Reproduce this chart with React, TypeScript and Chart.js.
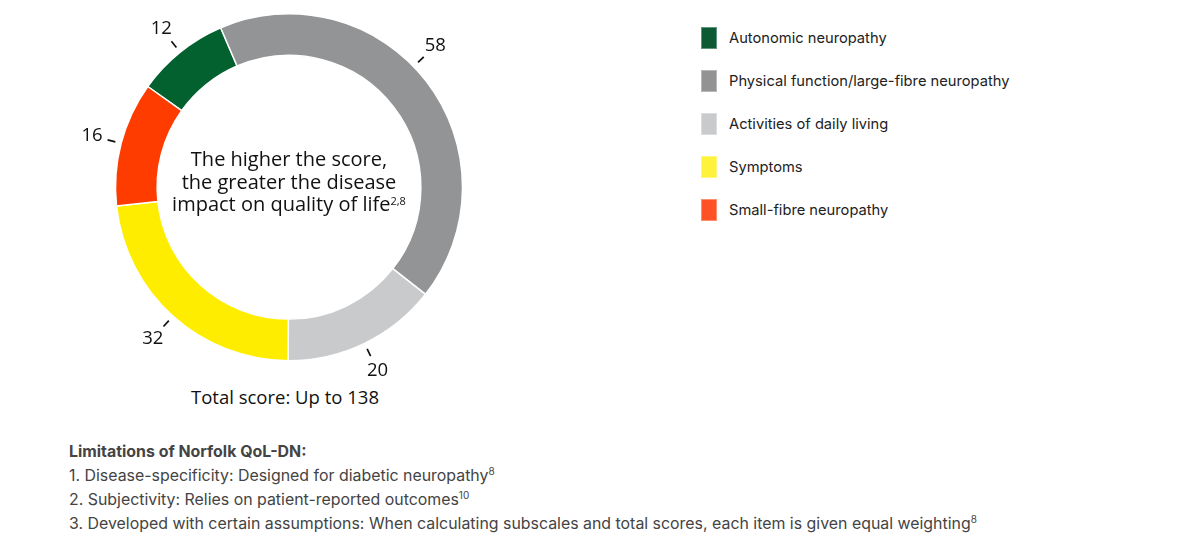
import React, { useEffect, useRef } from "react";
import { Chart, registerables } from "chart.js";

Chart.register(...registerables);

const categories = [
  "Autonomic neuropathy",
  "Physical function/large-fibre neuropathy",
  "Activities of daily living",
  "Symptoms",
  "Small-fibre neuropathy",
];
const scores = [12, 58, 20, 32, 16];
const sliceColors = ["#03602f", "#939495", "#c8cacc", "#ffed00", "#ff3c00"];
const legendColors = ["#0b5a34", "#939394", "#c8cacc", "#fff23a", "#ff5224"];
const centerLines = ["The higher the score,", "the greater the disease", "impact on quality of life"];
const centerSup = "2,8";
const totalLabel = "Total score: Up to 138";
const limitationsTitle = "Limitations of Norfolk QoL-DN:";
const limitations = [
  ["1. Disease-specificity: Designed for diabetic neuropathy", "8"],
  ["2. Subjectivity: Relies on patient-reported outcomes", "10"],
  ["3. Developed with certain assumptions: When calculating subscales and total scores, each item is given equal weighting", "8"],
];

const FONT_CHART = "'Open Sans', 'Noto Sans', sans-serif";
const FONT_BODY = "Inter, 'Noto Sans', sans-serif";
// small angular nudges (degrees) for label placement readability
const labelNudge = [0, -6.5, 0, 0, 0];

const labelPlugin = {
  id: "outerLabels",
  afterDatasetsDraw(chart: any) {
    const ctx = chart.ctx;
    const meta = chart.getDatasetMeta(0);
    const values = chart.data.datasets[0].data;
    ctx.save();
    meta.data.forEach((arc: any, i: number) => {
      const { x, y, startAngle, endAngle, outerRadius } = arc.getProps(
        ["x", "y", "startAngle", "endAngle", "outerRadius"],
        true
      );
      const mid = (startAngle + endAngle) / 2 + ((labelNudge[i] || 0) * Math.PI) / 180;
      const cos = Math.cos(mid);
      const sin = Math.sin(mid);
      const r1 = outerRadius + 6;
      const r2 = outerRadius + 14;
      const r3 = outerRadius + 30;
      ctx.strokeStyle = "#111";
      ctx.lineWidth = 1.7;
      ctx.beginPath();
      ctx.moveTo(x + cos * r1, y + sin * r1);
      ctx.lineTo(x + cos * r2, y + sin * r2);
      ctx.stroke();
      ctx.fillStyle = "#111";
      ctx.font = `18.5px ${FONT_CHART}`;
      ctx.textAlign = "center";
      ctx.textBaseline = "middle";
      ctx.fillText(String(values[i]), x + cos * r3, y + sin * r3);
    });
    ctx.restore();
  },
};

export default function App() {
  const canvasRef = useRef<HTMLCanvasElement | null>(null);

  useEffect(() => {
    if (!canvasRef.current) return;
    const chart = new Chart(canvasRef.current, {
      type: "doughnut",
      data: {
        labels: categories,
        datasets: [
          {
            data: scores,
            backgroundColor: sliceColors,
            borderColor: "#ffffff",
            borderWidth: 1.5,
          },
        ],
      },
      options: {
        animation: false,
        responsive: false,
        maintainAspectRatio: false,
        cutout: "76%",
        rotation: -54.5,
        layout: { padding: { top: 13, bottom: 14.5, left: 0, right: 0 } },
        plugins: {
          legend: { display: false },
          tooltip: { enabled: false },
        },
      },
      plugins: [labelPlugin],
    });
    return () => chart.destroy();
  }, []);

  return (
    <div style={{ position: "relative", width: 1162, height: 528 }}>
      <canvas
        ref={canvasRef}
        width={500}
        height={376}
        style={{ position: "absolute", left: 31, top: -8, width: 500, height: 376 }}
      />
      <div
        style={{
          position: "absolute",
          left: 131,
          top: 140,
          width: 300,
          textAlign: "center",
          fontFamily: FONT_CHART,
          fontSize: 20,
          lineHeight: "22.5px",
          color: "#111",
        }}
      >
        {centerLines.map((l, i) => (
          <div key={i}>
            {l}
            {i === centerLines.length - 1 ? (
              <sup style={{ fontSize: 11, lineHeight: 0, verticalAlign: "6px" }}>{centerSup}</sup>
            ) : null}
          </div>
        ))}
      </div>
      <div
        style={{
          position: "absolute",
          left: 127,
          top: 377,
          width: 300,
          textAlign: "center",
          fontFamily: FONT_CHART,
          fontSize: 18.5,
          lineHeight: "24px",
          color: "#111",
        }}
      >
        {totalLabel}
      </div>
      <div style={{ position: "absolute", left: 693, top: 19 }}>
        {categories.map((c, i) => (
          <div
            key={i}
            style={{ display: "flex", alignItems: "center", height: 22, marginBottom: 21 }}
          >
            <div
              style={{
                width: 16,
                height: 22,
                background: legendColors[i],
                boxSizing: "border-box",
                border: "1px solid rgba(255,255,255,0.35)",
                marginRight: 12,
              }}
            />
            <span style={{ fontFamily: FONT_BODY, fontSize: 14.7, color: "#222" }}>{c}</span>
          </div>
        ))}
      </div>
      <div
        style={{
          position: "absolute",
          left: 61,
          top: 432,
          fontFamily: FONT_BODY,
          fontSize: 15.9,
          lineHeight: "24px",
          color: "#444",
        }}
      >
        <div style={{ fontWeight: 700, height: 24 }}>{limitationsTitle}</div>
        {limitations.map(([t, s], i) => (
          <div key={i} style={{ height: 24, whiteSpace: "nowrap" }}>
            {t}
            <sup style={{ fontSize: 10, lineHeight: 0, verticalAlign: "6px" }}>{s}</sup>
          </div>
        ))}
      </div>
    </div>
  );
}
